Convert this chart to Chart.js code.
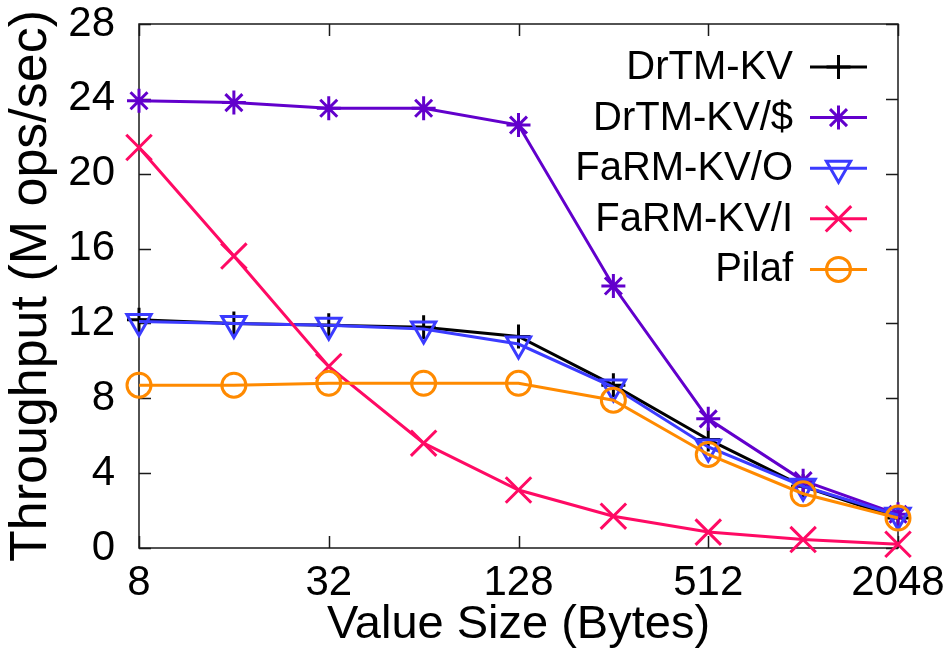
<!DOCTYPE html>
<html>
<head>
<meta charset="utf-8">
<script src="https://cdn.jsdelivr.net/npm/chart.js@4.4.1/dist/chart.umd.min.js"></script>
<style>
  html, body { margin: 0; padding: 0; background: #fff; }
  #wrap { width: 949px; height: 653px; }
</style>
</head>
<body>
<div id="wrap"><canvas id="line-chart"></canvas></div>
<script>
// ---------------- data ----------------
const valueSizes = [8, 16, 32, 64, 128, 256, 512, 1024, 2048]
const xTickValues = [8, 32, 128, 512, 2048]
const yTickValues = [0, 4, 8, 12, 16, 20, 24, 28]

const seriesNames = ['DrTM-KV', 'DrTM-KV/$', 'FaRM-KV/O', 'FaRM-KV/I', 'Pilaf']
const drtmKv = [12.2, 12.0, 11.9, 11.8, 11.3, 8.7, 5.8, 3.3, 1.6]
const drtmKvCache = [23.9, 23.8, 23.5, 23.5, 22.6, 14.0, 6.9, 3.6, 1.8]
const farmKvO = [12.1, 12.0, 11.9, 11.7, 10.9, 8.6, 5.4, 3.3, 1.75]
const farmKvI = [21.4, 15.6, 9.7, 5.6, 3.1, 1.7, 0.85, 0.45, 0.2]
const pilaf = [8.7, 8.7, 8.8, 8.8, 8.8, 7.9, 5.0, 2.9, 1.6]

const FONT = "'Liberation Sans', Arial, sans-serif"

const toPoints = (ys) => valueSizes.map((x, i) => ({ x: x, y: ys[i] }))

// styles per series (gnuplot look)
const styles = [
  { color: '#000000', pointStyle: 'cross', radius: 12, rotation: 0 },
  { color: '#6200cc', pointStyle: 'star', radius: 12, rotation: 0 },
  { color: '#3b3bff', pointStyle: 'triangle', radius: 14, rotation: 180 },
  { color: '#ff0a64', pointStyle: 'crossRot', radius: 18, rotation: 0 },
  { color: '#ff8a00', pointStyle: 'circle', radius: 12, rotation: 0 },
]
const seriesData = [drtmKv, drtmKvCache, farmKvO, farmKvI, pilaf]

const datasets = seriesData.map((ys, i) => ({
  label: seriesNames[i],
  data: toPoints(ys),
  borderColor: styles[i].color,
  backgroundColor: 'rgba(0,0,0,0)',
  borderWidth: 3,
  pointStyle: styles[i].pointStyle,
  pointRadius: styles[i].radius,
  pointRotation: styles[i].rotation,
  pointBorderWidth: 3,
  pointBorderColor: styles[i].color,
  pointBackgroundColor: 'rgba(0,0,0,0)',
  tension: 0,
  clip: false,
  order: seriesData.length - i, // later series on top, like gnuplot
}))

// frame + inward ticks on all four sides
const framePlugin = {
  id: 'frame',
  beforeDatasetsDraw(chart) {
    const { ctx, chartArea: a, scales } = chart
    const len = 12
    ctx.save()
    ctx.strokeStyle = '#1a1a1a'
    ctx.lineWidth = 1.5
    ctx.strokeRect(a.left, a.top, a.right - a.left, a.bottom - a.top)
    ctx.beginPath()
    yTickValues.forEach((v) => {
      const y = Math.round(scales.y.getPixelForValue(v)) + 0.5
      ctx.moveTo(a.left, y)
      ctx.lineTo(a.left + len, y)
      ctx.moveTo(a.right, y)
      ctx.lineTo(a.right - len, y)
    })
    xTickValues.forEach((v) => {
      const x = Math.round(scales.x.getPixelForValue(v)) + 0.5
      ctx.moveTo(x, a.bottom)
      ctx.lineTo(x, a.bottom - len)
      ctx.moveTo(x, a.top)
      ctx.lineTo(x, a.top + len)
    })
    ctx.stroke()
    ctx.restore()
  },
}

// gnuplot-style key: text right-aligned, sample line + marker to its right
const keyPlugin = {
  id: 'key',
  afterDatasetsDraw(chart) {
    const { ctx, chartArea: a } = chart
    const textRight = a.right - 105
    const lineL = a.right - 88
    const lineR = a.right - 31
    ctx.save()
    ctx.font = '40px ' + FONT
    ctx.textAlign = 'right'
    ctx.textBaseline = 'middle'
    chart.data.datasets.forEach((ds, i) => {
      const y = a.top + 43 + i * 50.6
      ctx.fillStyle = '#000'
      ctx.fillText(ds.label, textRight, y + 1)
      ctx.strokeStyle = ds.borderColor
      ctx.lineWidth = 3
      ctx.beginPath()
      ctx.moveTo(lineL, y)
      ctx.lineTo(lineR, y)
      ctx.stroke()
      ctx.fillStyle = 'rgba(0,0,0,0)'
      Chart.helpers.drawPoint(ctx, {
        pointStyle: ds.pointStyle,
        rotation: ds.pointRotation,
        radius: ds.pointRadius,
        borderWidth: 3,
      }, (lineL + lineR) / 2, y)
    })
    ctx.restore()
  },
}

const plotData = () => {
  const el = document.getElementById('line-chart')
  new Chart(el, {
    type: 'line',
    data: { datasets: datasets },
    options: {
      responsive: true,
      maintainAspectRatio: false,
      animation: false,
      layout: { padding: { top: 24, right: 51, left: 0, bottom: 0 } },
      scales: {
        x: {
          type: 'logarithmic',
          min: 8,
          max: 2048,
          afterBuildTicks: (scale) => {
            scale.ticks = xTickValues.map((v) => ({ value: v }))
          },
          afterFit: (scale) => { scale.height = 105 },
          grid: { display: false },
          border: { display: false },
          ticks: {
            autoSkip: false,
            maxRotation: 0,
            padding: 2,
            color: '#000',
            font: { family: FONT, size: 42 },
            callback: (v) => String(v),
          },
          title: {
            display: true,
            text: 'Value Size (Bytes)',
            color: '#000',
            font: { family: FONT, size: 47 },
            padding: { top: 0, bottom: 0 },
          },
        },
        y: {
          min: 0,
          max: 28,
          afterBuildTicks: (scale) => {
            scale.ticks = yTickValues.map((v) => ({ value: v }))
          },
          afterFit: (scale) => {
            scale.width = 139
            scale.paddingTop = 0
            scale.paddingBottom = 0
          },
          grid: { display: false },
          border: { display: false },
          ticks: {
            padding: 16,
            color: '#000',
            font: { family: FONT, size: 42 },
          },
          title: {
            display: true,
            text: 'Throughput (M ops/sec)',
            color: '#000',
            font: { family: FONT, size: 52 },
            padding: { top: 0, bottom: 0 },
          },
        },
      },
      plugins: {
        legend: { display: false },
        tooltip: { enabled: false },
      },
    },
    plugins: [framePlugin, keyPlugin],
  })
}

plotData()
</script>
</body>
</html>
